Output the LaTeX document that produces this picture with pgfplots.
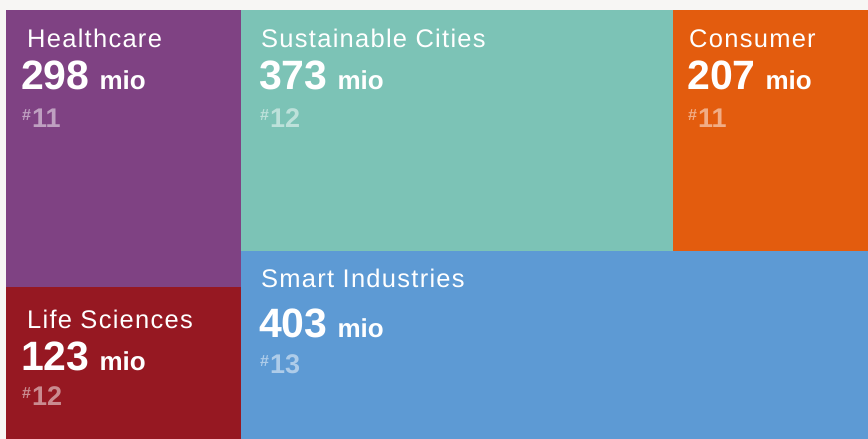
\documentclass[border=0pt]{standalone}
\usepackage{pgfplots}
\pgfplotsset{compat=1.18}
\usepackage{fontspec}
\setmainfont{Liberation Sans}
\newfontfamily\titlefont[LetterSpace=5]{Liberation Sans}
\definecolor{bg}{HTML}{F7F6F4}
\definecolor{cpurple}{HTML}{7F4283}
\definecolor{cred}{HTML}{961822}
\definecolor{cteal}{HTML}{7CC3B6}
\definecolor{corange}{HTML}{E35C0E}
\definecolor{cblue}{HTML}{5D9AD4}
\begin{document}
\begin{tikzpicture}
\begin{axis}[
  scale only axis, width=868pt, height=439pt,
  xmin=0, xmax=868, ymin=0, ymax=439, y dir=reverse,
  hide axis, clip=false,
]
% background
\addplot[fill=bg, draw=none] coordinates {(0,0) (868,0) (868,439) (0,439)} -- cycle;
% Healthcare 298
\addplot[fill=cpurple, draw=none] coordinates {(6,10) (241,10) (241,287) (6,287)} -- cycle;
% Life Sciences 123
\addplot[fill=cred, draw=none] coordinates {(6,287) (241,287) (241,439) (6,439)} -- cycle;
% Sustainable Cities 373
\addplot[fill=cteal, draw=none] coordinates {(241,10) (673,10) (673,251) (241,251)} -- cycle;
% Consumer 207
\addplot[fill=corange, draw=none] coordinates {(673,10) (868,10) (868,251) (673,251)} -- cycle;
% Smart Industries 403
\addplot[fill=cblue, draw=none] coordinates {(241,251) (868,251) (868,439) (241,439)} -- cycle;

\tikzset{
  ttl/.style={anchor=base west, text=white, inner sep=0pt, font=\titlefont\fontsize{25.5}{25.5}\selectfont},
  num/.style={anchor=base west, text=white, inner sep=0pt, font=\bfseries\fontsize{41}{41}\selectfont},
  rk/.style={anchor=base west, text=white, text opacity=0.5, inner sep=0pt, font=\bfseries\fontsize{27}{27}\selectfont},
}
\newcommand{\mio}[1]{#1\hspace{10pt}{\fontsize{26}{26}\selectfont mio}}
\newcommand{\rank}[1]{\raisebox{7pt}{\fontsize{16}{16}\selectfont\#}\hspace{1pt}#1}

\node[ttl] at (27,47) {Healthcare};
\node[num] at (21,89) {\mio{298}};
\node[rk] at (22,127) {\rank{11}};

\node[ttl] at (27,328) {Life Sciences};
\node[num] at (21,370) {\mio{123}};
\node[rk] at (22,405) {\rank{12}};

\node[ttl] at (261,47) {Sustainable Cities};
\node[num] at (259,89) {\mio{373}};
\node[rk] at (260,127) {\rank{12}};

\node[ttl] at (689,47) {Consumer};
\node[num] at (687,89) {\mio{207}};
\node[rk] at (688,127) {\rank{11}};

\node[ttl] at (261,287) {Smart Industries};
\node[num] at (259,337) {\mio{403}};
\node[rk] at (260,373) {\rank{13}};
\end{axis}
\end{tikzpicture}
\end{document}
